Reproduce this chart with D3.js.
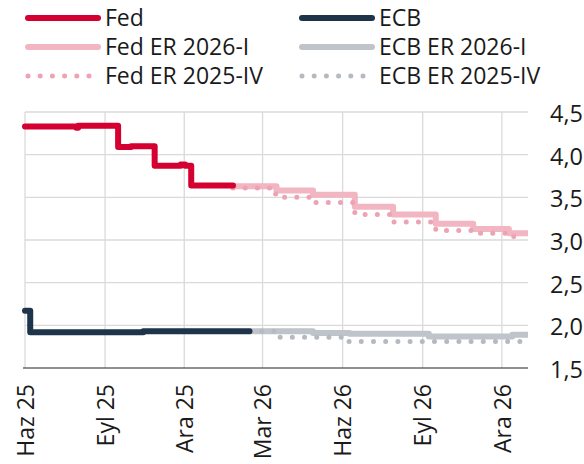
<!DOCTYPE html>
<html>
<head>
<meta charset="utf-8">
<script src="https://cdn.jsdelivr.net/npm/d3@7"></script>
<style>
  html, body { margin: 0; padding: 0; background: #fff; }
  svg { display: block; }
  text { font-family: "Open Sans", "Noto Sans", sans-serif; fill: #1a1a1a; }
</style>
</head>
<body>
<svg id="chart" width="584" height="464"></svg>
<script>
// ---- data ----
const tickDates = ["2025-06-01","2025-09-01","2025-12-01","2026-03-01","2026-06-01","2026-09-01","2026-12-01"];
const tickLabels = ["Haz 25","Eyl 25","Ara 25","Mar 26","Haz 26","Eyl 26","Ara 26"];
const yTicks = [1.5, 2.0, 2.5, 3.0, 3.5, 4.0, 4.5];
const yTickLabels = ["1,5","2,0","2,5","3,0","3,5","4,0","4,5"];

const fedDates  = ["2025-06-01","2025-07-30","2025-08-01","2025-09-16","2025-10-01","2025-10-28","2025-11-27","2025-12-02","2025-12-09","2026-01-26"];
const fedValues = [4.33, 4.315, 4.34, 4.09, 4.10, 3.87, 3.885, 3.87, 3.64, 3.64];

const ecbDates  = ["2025-06-01","2025-06-07","2025-10-15","2026-02-14"];
const ecbValues = [2.17, 1.92, 1.93, 1.93];

const fedEr26Dates  = ["2026-01-26","2026-03-17","2026-04-28","2026-06-15","2026-07-29","2026-09-16","2026-10-29","2026-12-09","2026-12-31"];
const fedEr26Values = [3.63, 3.58, 3.53, 3.39, 3.30, 3.19, 3.13, 3.08, 3.08];

const fedEr25Dates  = ["2026-01-26","2026-03-16","2026-04-28","2026-06-15","2026-07-29","2026-09-16","2026-10-28","2026-12-09","2026-12-28"];
const fedEr25Values = [3.61, 3.50, 3.44, 3.30, 3.21, 3.11, 3.08, 3.04, 3.04];

const ecbEr26Dates  = ["2026-02-14","2026-04-28","2026-06-09","2026-09-08","2026-12-13","2026-12-31"];
const ecbEr26Values = [1.93, 1.91, 1.90, 1.87, 1.89, 1.89];

const ecbEr25Dates  = ["2026-02-14","2026-03-18","2026-06-07","2026-12-31"];
const ecbEr25Values = [1.93, 1.86, 1.81, 1.81];

const seriesNames = ["Fed","ECB","Fed ER 2026-I","ECB ER 2026-I","Fed ER 2025-IV","ECB ER 2025-IV"];

// ---- setup ----
const parse = d3.utcParse("%Y-%m-%d");
const svg = d3.select("#chart");
const margin = {left: 25, right: 56, top: 112, bottom: 96};
const W = 584, H = 464;

const x = d3.scaleUtc()
  .domain([parse("2025-06-01"), parse("2026-12-31")])
  .range([margin.left, W - margin.right]);
const y = d3.scaleLinear()
  .domain([1.5, 4.5])
  .range([H - margin.bottom, margin.top]);

const zip = (ds, vs) => ds.map((d, i) => ({date: parse(d), v: vs[i]}));
const line = d3.line().x(d => x(d.date)).y(d => y(d.v)).curve(d3.curveStepAfter);

const styles = {
  fed:   {color: "#d50032", width: 6, dash: null},
  ecb:   {color: "#1e344a", width: 6, dash: null},
  fed26: {color: "#f2b5c2", width: 6, dash: null},
  ecb26: {color: "#bfc4ca", width: 6, dash: null},
  fed25: {color: "#eca3b4", width: 5, dash: "0 12.2"},
  ecb25: {color: "#b5bac1", width: 5, dash: "0 12.2"}
};

// gridlines
const grid = svg.append("g");
grid.selectAll("line.h").data(yTicks.filter(t => t > 1.5)).join("line")
  .attr("x1", x.range()[0]).attr("x2", x.range()[1])
  .attr("y1", d => y(d)).attr("y2", d => y(d))
  .attr("stroke", "#dadada").attr("stroke-width", 1.3);
grid.selectAll("line.v").data(tickDates).join("line")
  .attr("x1", d => x(parse(d))).attr("x2", d => x(parse(d)))
  .attr("y1", y(4.5)).attr("y2", y(1.5))
  .attr("stroke", "#dadada").attr("stroke-width", 1.3);

// baseline axis
svg.append("line")
  .attr("x1", x.range()[0] - 2).attr("x2", x.range()[1])
  .attr("y1", y(1.5)).attr("y2", y(1.5))
  .attr("stroke", "#222").attr("stroke-width", 1.2);

// y labels (right)
const yAxis = d3.axisRight(y).tickValues(yTicks).tickFormat((d, i) => yTickLabels[i]).tickSize(0).tickPadding(0);
const ya = svg.append("g").attr("transform", `translate(${W - 1},2)`).call(yAxis);
ya.select(".domain").remove();
ya.selectAll("text").attr("text-anchor", "end").style("font-size", "23.5px")
  .style("font-family", "'Open Sans', sans-serif").attr("fill", "#1a1a1a");

// x labels (rotated)
const xAxis = d3.axisBottom(x).tickValues(tickDates.map(parse)).tickFormat((d, i) => tickLabels[i]).tickSize(0);
const xa = svg.append("g").attr("transform", `translate(0,${y(1.5)})`).call(xAxis);
xa.select(".domain").remove();
xa.selectAll("text")
  .attr("transform", "rotate(-90)")
  .attr("text-anchor", "end")
  .attr("x", -16).attr("y", 0).attr("dy", "0.36em")
  .style("font-size", "23px").style("font-family", "'Open Sans', sans-serif").attr("fill", "#1a1a1a");

// series
function draw(data, st, cap) {
  const p = svg.append("path").datum(data)
    .attr("d", line)
    .attr("fill", "none")
    .attr("stroke", st.color)
    .attr("stroke-width", st.width)
    .attr("stroke-linejoin", "round")
    .attr("stroke-linecap", st.dash ? "round" : cap);
  if (st.dash) p.attr("stroke-dasharray", st.dash);
}
draw(zip(ecbEr26Dates, ecbEr26Values), styles.ecb26, "butt");
draw(zip(fedEr26Dates, fedEr26Values), styles.fed26, "butt");
draw(zip(ecbEr25Dates, ecbEr25Values), styles.ecb25);
draw(zip(fedEr25Dates, fedEr25Values), styles.fed25);
draw(zip(ecbDates, ecbValues), styles.ecb, "round");
draw(zip(fedDates, fedValues), styles.fed, "round");

// legend
const legendItems = [
  {name: seriesNames[0], st: styles.fed,   col: 0, row: 0},
  {name: seriesNames[1], st: styles.ecb,   col: 1, row: 0},
  {name: seriesNames[2], st: styles.fed26, col: 0, row: 1},
  {name: seriesNames[3], st: styles.ecb26, col: 1, row: 1},
  {name: seriesNames[4], st: styles.fed25, col: 0, row: 2},
  {name: seriesNames[5], st: styles.ecb25, col: 1, row: 2}
];
const colX = [28, 302];
const rowY = [18, 47, 76];
const lg = svg.append("g");
legendItems.forEach(it => {
  const x0 = colX[it.col], y0 = rowY[it.row];
  const l = lg.append("line")
    .attr("x1", x0).attr("x2", x0 + 70)
    .attr("y1", y0).attr("y2", y0)
    .attr("stroke", it.st.color).attr("stroke-width", it.st.width)
    .attr("stroke-linecap", "round");
  if (it.st.dash) l.attr("stroke-dasharray", it.st.dash);
  lg.append("text").attr("x", x0 + 77).attr("y", y0).attr("dy", "0.35em")
    .style("font-size", "23px").text(it.name);
});
</script>
</body>
</html>
